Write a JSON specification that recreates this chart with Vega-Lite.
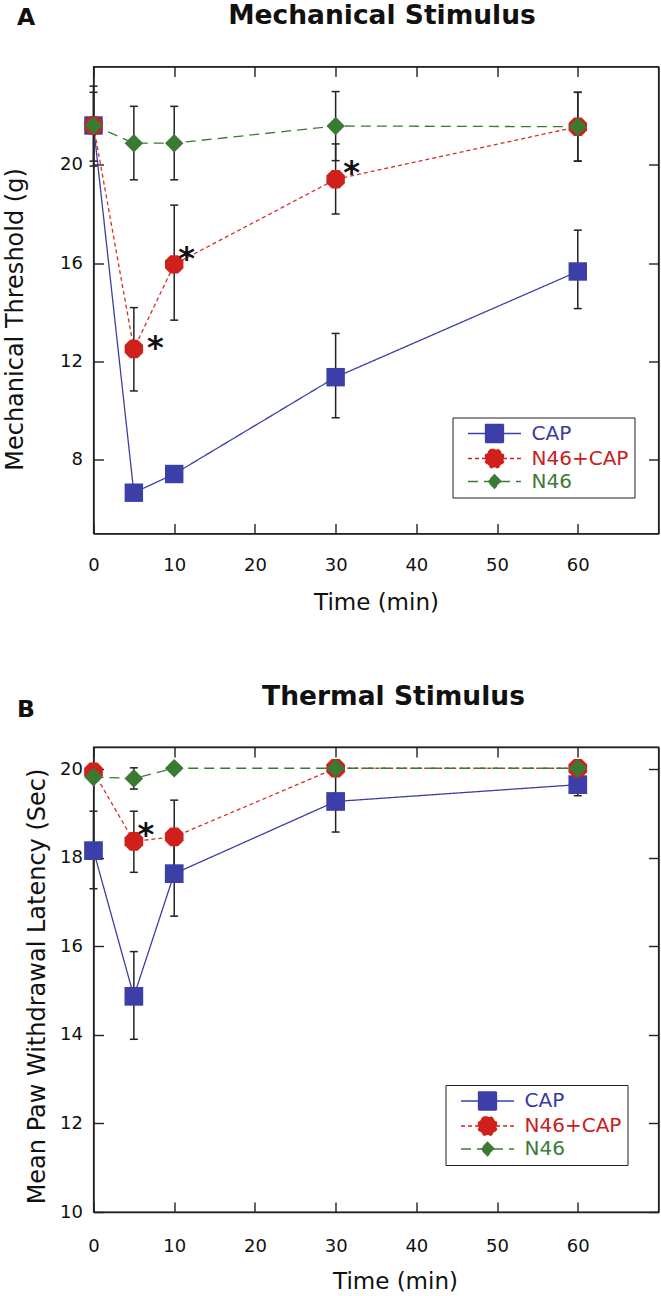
{
  "$schema": "https://vega.github.io/schema/vega-lite/v6.json",
  "padding": {"left": 2.5, "top": 1.5, "right": 0, "bottom": 0},
  "background": "white",
  "datasets": {
    "A": [
      {"series": "CAP", "t": 0, "v": 21.6, "lo": 19.95, "hi": 23.2},
      {"series": "CAP", "t": 5, "v": 6.66, "lo": null, "hi": null},
      {"series": "CAP", "t": 10, "v": 7.42, "lo": null, "hi": null},
      {"series": "CAP", "t": 30, "v": 11.36, "lo": 9.71, "hi": 13.14},
      {"series": "CAP", "t": 60, "v": 15.66, "lo": 14.15, "hi": 17.34},
      {"series": "N46+CAP", "t": 0, "v": 21.6, "lo": null, "hi": null},
      {"series": "N46+CAP", "t": 5, "v": 12.51, "lo": 10.8, "hi": 14.19},
      {"series": "N46+CAP", "t": 10, "v": 15.95, "lo": 13.68, "hi": 18.36},
      {"series": "N46+CAP", "t": 30, "v": 19.41, "lo": 18.0, "hi": 20.85},
      {"series": "N46+CAP", "t": 60, "v": 21.55, "lo": 20.15, "hi": 22.95},
      {"series": "N46", "t": 0, "v": 21.6, "lo": 20.15, "hi": 22.95},
      {"series": "N46", "t": 5, "v": 20.88, "lo": 19.39, "hi": 22.38},
      {"series": "N46", "t": 10, "v": 20.88, "lo": 19.39, "hi": 22.38},
      {"series": "N46", "t": 30, "v": 21.58, "lo": 20.17, "hi": 22.98},
      {"series": "N46", "t": 60, "v": 21.55, "lo": 20.15, "hi": 22.95}
    ],
    "B": [
      {"series": "CAP", "t": 0, "v": 18.16, "lo": 17.3, "hi": 19.05},
      {"series": "CAP", "t": 5, "v": 14.87, "lo": 13.9, "hi": 15.88},
      {"series": "CAP", "t": 10, "v": 17.64, "lo": 16.68, "hi": 18.6},
      {"series": "CAP", "t": 30, "v": 19.27, "lo": 18.58, "hi": 19.96},
      {"series": "CAP", "t": 60, "v": 19.65, "lo": 19.4, "hi": 19.9},
      {"series": "N46+CAP", "t": 0, "v": 19.94, "lo": null, "hi": null},
      {"series": "N46+CAP", "t": 5, "v": 18.37, "lo": 17.67, "hi": 19.05},
      {"series": "N46+CAP", "t": 10, "v": 18.47, "lo": 17.65, "hi": 19.3},
      {"series": "N46+CAP", "t": 30, "v": 20.02, "lo": null, "hi": null},
      {"series": "N46+CAP", "t": 60, "v": 20.02, "lo": null, "hi": null},
      {"series": "N46", "t": 0, "v": 19.82, "lo": null, "hi": null},
      {"series": "N46", "t": 5, "v": 19.79, "lo": 19.55, "hi": 20.03},
      {"series": "N46", "t": 10, "v": 20.02, "lo": null, "hi": null},
      {"series": "N46", "t": 30, "v": 20.02, "lo": null, "hi": null},
      {"series": "N46", "t": 60, "v": 20.02, "lo": null, "hi": null}
    ],
    "starsA": [
      {"t": 7.65, "v": 12.85, "label": "*"},
      {"t": 11.55, "v": 16.45, "label": "*"},
      {"t": 31.97, "v": 19.95, "label": "*"}
    ],
    "starsB": [
      {"t": 6.5, "v": 18.66, "label": "*"}
    ]
  },
  "spacing": 66.5,
  "resolve": {
    "scale": {"x": "independent", "y": "independent", "color": "independent", "stroke": "independent", "shape": "independent", "strokeDash": "independent"},
    "legend": {"color": "independent"}
  },
  "vconcat": [
    {
      "width": 565,
      "height": 467,
      "data": {"name": "A"},
      "resolve": {"axis": {"x": "independent", "y": "independent"}},
      "layer": [
        {
          "mark": {"type": "line", "strokeWidth": 1.3},
          "encoding": {
            "x": {"field": "t", "type": "quantitative", "scale": {"domain": [0, 70], "nice": false, "zero": false}, "axis": null},
            "y": {"field": "v", "type": "quantitative", "scale": {"domain": [5, 24], "nice": false, "zero": false}, "axis": null},
            "stroke": {"field": "series", "type": "nominal", "scale": {"domain": ["N46+CAP", "N46", "CAP"], "range": ["#d4302a", "#3b7a32", "#3a3fa5"]}, "legend": null},
            "strokeDash": {"field": "series", "type": "nominal", "scale": {"domain": ["N46", "N46+CAP", "CAP"], "range": [[10, 6], [4, 3], [1, 0]]}, "legend": null}
          }
        },
        {
          "transform": [{"filter": "isValid(datum.lo)"}],
          "mark": {"type": "rule", "strokeWidth": 1.5, "color": "#222"},
          "encoding": {
            "x": {"field": "t", "type": "quantitative", "scale": {"domain": [0, 70], "nice": false, "zero": false},
              "axis": {"orient": "bottom", "values": [0, 10, 20, 30, 40, 50, 60], "tickSize": -10, "labelPadding": 33, "labelFlush": false, "title": "Time (min)", "titleX": 282.5, "titleY": 76, "titleBaseline": "alphabetic", "titleAlign": "center", "titleFontSize": 23}},
            "y": {"field": "lo", "type": "quantitative", "scale": {"domain": [5, 24], "nice": false, "zero": false},
              "axis": {"orient": "left", "values": [8, 12, 16, 20], "tickSize": -10, "labelPadding": 21, "title": "Mechanical Threshold (g)", "titleX": -71, "titleY": 252.5, "titleAngle": -90, "titleBaseline": "alphabetic", "titleAlign": "center", "titleFontSize": 24}},
            "y2": {"field": "hi"}
          }
        },
        {
          "transform": [{"filter": "isValid(datum.lo)"}],
          "mark": {"type": "tick", "orient": "horizontal", "size": 8, "thickness": 1.5, "color": "#222", "opacity": 1},
          "encoding": {
            "x": {"field": "t", "type": "quantitative", "axis": null},
            "y": {"field": "lo", "type": "quantitative", "axis": null}
          }
        },
        {
          "transform": [{"filter": "isValid(datum.hi)"}],
          "mark": {"type": "tick", "orient": "horizontal", "size": 8, "thickness": 1.5, "color": "#222", "opacity": 1},
          "encoding": {
            "x": {"field": "t", "type": "quantitative", "axis": null},
            "y": {"field": "hi", "type": "quantitative", "axis": null}
          }
        },
        {
          "mark": {"type": "point", "filled": true, "size": 340, "opacity": 1},
          "encoding": {
            "x": {"field": "t", "type": "quantitative",
              "axis": {"orient": "top", "values": [0, 10, 20, 30, 40, 50, 60], "tickSize": -10, "labels": false, "title": "Mechanical Stimulus", "titleX": 288, "titleY": -43, "titleBaseline": "alphabetic", "titleAlign": "center", "titleFontSize": 26.5, "titleFontWeight": "bold"}},
            "y": {"field": "v", "type": "quantitative",
              "axis": {"orient": "right", "values": [8, 12, 16, 20], "tickSize": -10, "labels": false, "title": "A", "titleX": -633, "titleY": -42, "titleAngle": 0, "titleBaseline": "alphabetic", "titleAlign": "center", "titleFontSize": 23.5, "titleFontWeight": "bold"}},
            "shape": {"field": "series", "type": "nominal", "scale": {"domain": ["CAP", "N46", "N46+CAP"], "range": ["square", "diamond", "M-0.414,-1L0.414,-1L1,-0.414L1,0.414L0.414,1L-0.414,1L-1,0.414L-1,-0.414Z"]}, "legend": null},
            "color": {"field": "series", "type": "nominal", "scale": {"domain": ["CAP", "N46+CAP", "N46"], "range": ["#3b3fa7", "#d0201c", "#3b7a32"]},
              "legend": {
                "orient": "none", "legendX": 359, "legendY": 351, "title": null,
                "strokeColor": "#222", "fillColor": "white", "padding": 6,
                "labelFont": "DejaVu Sans", "labelFontSize": 20, "labelLimit": 300,
                "labelExpr": "datum.label + '   '",
                "symbolSize": 324, "rowPadding": 1, "symbolOffset": 26, "labelOffset": 27, "symbolStrokeWidth": 1.3,
                "symbolType": {"expr": "datum.value === 'CAP' ? 'M-2.94,0H2.94M-1,-1H1V1H-1Z' : datum.value === 'N46' ? 'M-2.94,0H2.94M0,-0.75L0.75,0L0,0.75L-0.75,0Z' : 'M-2.94,0H2.94M-0.414,-1L0.414,-1L1,-0.414L1,0.414L0.414,1L-0.414,1L-1,0.414L-1,-0.414Z'"},
                "symbolStrokeColor": {"expr": "datum.value === 'CAP' ? '#3b3fa7' : datum.value === 'N46' ? '#3b7a32' : '#d0201c'"},
                "symbolDash": {"expr": "datum.value === 'CAP' ? [1, 0] : datum.value === 'N46' ? [10, 6] : [4, 3]"},
                "labelColor": {"expr": "datum.value === 'CAP' ? '#3a3aa0' : datum.value === 'N46' ? '#3e7a3a' : '#c8201e'"}
              }
            }
          }
        },
        {
          "data": {"name": "starsA"},
          "mark": {"type": "text", "font": "DejaVu Sans", "fontWeight": "bold", "fontSize": 32, "baseline": "alphabetic", "align": "center", "dy": 17, "color": "#111"},
          "encoding": {
            "x": {"field": "t", "type": "quantitative", "axis": null},
            "y": {"field": "v", "type": "quantitative", "axis": null},
            "text": {"field": "label"}
          }
        }
      ]
    },
    {
      "width": 565,
      "height": 465,
      "data": {"name": "B"},
      "resolve": {"axis": {"x": "independent", "y": "independent"}},
      "layer": [
        {
          "mark": {"type": "line", "strokeWidth": 1.3},
          "encoding": {
            "x": {"field": "t", "type": "quantitative", "scale": {"domain": [0, 70], "nice": false, "zero": false}, "axis": null},
            "y": {"field": "v", "type": "quantitative", "scale": {"domain": [10, 20.5], "nice": false, "zero": false}, "axis": null},
            "stroke": {"field": "series", "type": "nominal", "scale": {"domain": ["N46+CAP", "N46", "CAP"], "range": ["#d4302a", "#3b7a32", "#3a3fa5"]}, "legend": null},
            "strokeDash": {"field": "series", "type": "nominal", "scale": {"domain": ["N46", "N46+CAP", "CAP"], "range": [[10, 6], [4, 3], [1, 0]]}, "legend": null}
          }
        },
        {
          "transform": [{"filter": "isValid(datum.lo)"}],
          "mark": {"type": "rule", "strokeWidth": 1.5, "color": "#222"},
          "encoding": {
            "x": {"field": "t", "type": "quantitative", "scale": {"domain": [0, 70], "nice": false, "zero": false},
              "axis": {"orient": "bottom", "values": [0, 10, 20, 30, 40, 50, 60], "tickSize": -10, "labelPadding": 35, "labelFlush": false, "title": "Time (min)", "titleX": 301.5, "titleY": 76, "titleBaseline": "alphabetic", "titleAlign": "center", "titleFontSize": 23}},
            "y": {"field": "lo", "type": "quantitative", "scale": {"domain": [10, 20.5], "nice": false, "zero": false},
              "axis": {"orient": "left", "values": [10, 12, 14, 16, 18, 20], "tickSize": -10, "labelPadding": 21, "title": "Mean Paw Withdrawal Latency (Sec)", "titleX": -49, "titleY": 239, "titleAngle": -90, "titleBaseline": "alphabetic", "titleAlign": "center", "titleFontSize": 24}},
            "y2": {"field": "hi"}
          }
        },
        {
          "transform": [{"filter": "isValid(datum.lo)"}],
          "mark": {"type": "tick", "orient": "horizontal", "size": 8, "thickness": 1.5, "color": "#222", "opacity": 1},
          "encoding": {
            "x": {"field": "t", "type": "quantitative", "axis": null},
            "y": {"field": "lo", "type": "quantitative", "axis": null}
          }
        },
        {
          "transform": [{"filter": "isValid(datum.hi)"}],
          "mark": {"type": "tick", "orient": "horizontal", "size": 8, "thickness": 1.5, "color": "#222", "opacity": 1},
          "encoding": {
            "x": {"field": "t", "type": "quantitative", "axis": null},
            "y": {"field": "hi", "type": "quantitative", "axis": null}
          }
        },
        {
          "mark": {"type": "point", "filled": true, "size": 350, "opacity": 1},
          "encoding": {
            "x": {"field": "t", "type": "quantitative",
              "axis": {"orient": "top", "values": [0, 10, 20, 30, 40, 50, 60], "tickSize": -10, "labels": false, "title": "Thermal Stimulus", "titleX": 299.5, "titleY": -43, "titleBaseline": "alphabetic", "titleAlign": "center", "titleFontSize": 26.5, "titleFontWeight": "bold"}},
            "y": {"field": "v", "type": "quantitative",
              "axis": {"orient": "right", "values": [10, 12, 14, 16, 18, 20], "tickSize": -10, "labels": false, "title": "B", "titleX": -633, "titleY": -30.5, "titleAngle": 0, "titleBaseline": "alphabetic", "titleAlign": "center", "titleFontSize": 23.5, "titleFontWeight": "bold"}},
            "shape": {"field": "series", "type": "nominal", "scale": {"domain": ["CAP", "N46", "N46+CAP"], "range": ["square", "diamond", "M-0.414,-1L0.414,-1L1,-0.414L1,0.414L0.414,1L-0.414,1L-1,0.414L-1,-0.414Z"]}, "legend": null},
            "color": {"field": "series", "type": "nominal", "scale": {"domain": ["CAP", "N46+CAP", "N46"], "range": ["#3b3fa7", "#d0201c", "#3b7a32"]},
              "legend": {
                "orient": "none", "legendX": 352, "legendY": 338, "title": null,
                "strokeColor": "#222", "fillColor": "white", "padding": 6,
                "labelFont": "DejaVu Sans", "labelFontSize": 20, "labelLimit": 300,
                "labelExpr": "datum.label + '   '",
                "symbolSize": 324, "rowPadding": 1, "symbolOffset": 26, "labelOffset": 27, "symbolStrokeWidth": 1.3,
                "symbolType": {"expr": "datum.value === 'CAP' ? 'M-2.94,0H2.94M-1,-1H1V1H-1Z' : datum.value === 'N46' ? 'M-2.94,0H2.94M0,-0.75L0.75,0L0,0.75L-0.75,0Z' : 'M-2.94,0H2.94M-0.414,-1L0.414,-1L1,-0.414L1,0.414L0.414,1L-0.414,1L-1,0.414L-1,-0.414Z'"},
                "symbolStrokeColor": {"expr": "datum.value === 'CAP' ? '#3b3fa7' : datum.value === 'N46' ? '#3b7a32' : '#d0201c'"},
                "symbolDash": {"expr": "datum.value === 'CAP' ? [1, 0] : datum.value === 'N46' ? [10, 6] : [4, 3]"},
                "labelColor": {"expr": "datum.value === 'CAP' ? '#3a3aa0' : datum.value === 'N46' ? '#3e7a3a' : '#c8201e'"}
              }
            }
          }
        },
        {
          "data": {"name": "starsB"},
          "mark": {"type": "text", "font": "DejaVu Sans", "fontWeight": "bold", "fontSize": 32, "baseline": "alphabetic", "align": "center", "dy": 17, "color": "#111"},
          "encoding": {
            "x": {"field": "t", "type": "quantitative", "axis": null},
            "y": {"field": "v", "type": "quantitative", "axis": null},
            "text": {"field": "label"}
          }
        }
      ]
    }
  ],
  "config": {
    "font": "DejaVu Sans",
    "view": {"stroke": "#222", "strokeWidth": 1.4},
    "axis": {
      "grid": false,
      "labelFont": "DejaVu Sans", "labelFontSize": 18, "labelColor": "#111",
      "titleFont": "DejaVu Sans", "titleColor": "#111", "titleFontWeight": "normal",
      "tickColor": "#222", "tickWidth": 1.4, "domainColor": "#222", "domainWidth": 1.4
    }
  }
}
